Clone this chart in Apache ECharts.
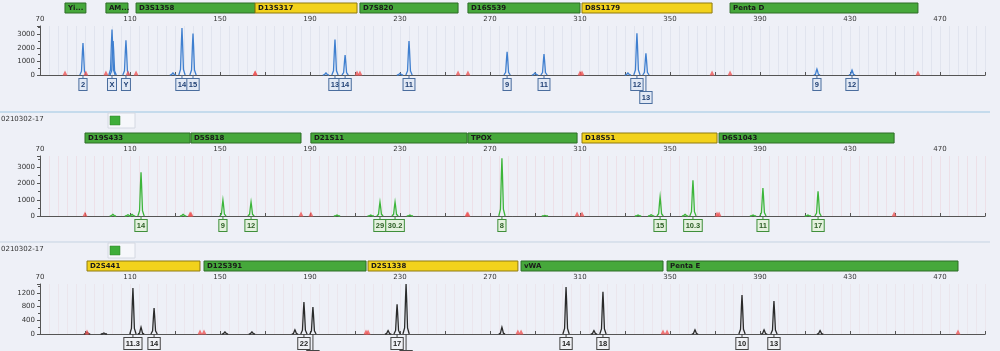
<!DOCTYPE html>
<html>
<head>
<meta charset="utf-8">
<style>
  html, body { margin: 0; padding: 0; background: #eef0f7; }
  #chart { width: 1000px; height: 351px; }
</style>
<script src="https://cdn.jsdelivr.net/npm/echarts@6.0.0/dist/echarts.min.js"></script>
</head>
<body>
<div id="chart"></div>
<script>
// size range (bp) shared by all three dye panels
const sizeMin = 70
const sizeMax = 490
const sizeStep = 20

// blue dye: loci [name, start bp, end bp, bin colour], peaks [bp, rfu], alleles [bp, call, row]
const blueLoci = [
  ['Yi...', 81.1, 90.4, 'g'],
  ['AM...', 99.3, 109.1, 'g'],
  ['D3S1358', 112.7, 165.6, 'g'],
  ['D13S317', 165.6, 210.9, 'y'],
  ['D7S820', 212.2, 255.8, 'g'],
  ['D16S539', 260.2, 310.0, 'g'],
  ['D8S1179', 310.9, 368.7, 'y'],
  ['Penta D', 376.7, 460.2, 'g'],
]
const bluePeaks = [
  [89.1, 2340], [102.0, 3350], [102.5, 2500], [108.2, 2550], [129.1, 150],
  [133.1, 3450], [138.0, 3050], [197.1, 150], [201.1, 2600], [205.6, 1460],
  [230.0, 120], [234.0, 2500], [277.6, 1700], [290.0, 150], [294.0, 1530],
  [331.3, 150], [335.3, 3060], [339.3, 1600], [415.3, 430], [430.9, 360],
]
const blueAlleles = [
  [89.1, '2', 0], [102.0, 'X', 0], [108.2, 'Y', 0], [133.1, '14', 0], [138.0, '15', 0],
  [201.1, '13', 0], [205.6, '14', 0], [234.0, '11', 0], [277.6, '9', 0], [294.0, '11', 0],
  [335.3, '12', 0], [339.3, '13', 1], [415.3, '9', 0], [430.9, '12', 0],
]
const blueTicks = [0, 1000, 2000, 3000]

// green dye
const greenLoci = [
  ['D19S433', 90.0, 136.7, 'g'],
  ['D5S818', 137.1, 186.0, 'g'],
  ['D21S11', 190.4, 259.8, 'g'],
  ['TPOX', 260.2, 308.7, 'g'],
  ['D18S51', 310.9, 370.9, 'y'],
  ['D6S1043', 371.8, 449.6, 'g'],
]
const greenPeaks = [
  [102.4, 100], [109.1, 80], [110.9, 100], [114.9, 2700], [133.6, 100],
  [151.3, 980], [163.8, 860], [202.0, 60], [217.0, 60], [221.1, 860],
  [227.8, 860], [234.4, 60], [275.3, 3560], [294.4, 40], [335.8, 60],
  [341.6, 80], [345.6, 1170], [356.7, 100], [360.2, 2200], [386.9, 60],
  [391.3, 1720], [411.3, 60], [415.8, 1530],
]
const greenAlleles = [
  [114.9, '14', 0], [151.3, '9', 0], [163.8, '12', 0], [221.1, '29', 0], [227.8, '30.2', 0],
  [275.3, '8', 0], [345.6, '15', 0], [360.2, '10.3', 0], [391.3, '11', 0], [415.8, '17', 0],
]
const greenTicks = [0, 1000, 2000, 3000]

// black dye
const blackLoci = [
  ['D2S441', 90.9, 141.1, 'y'],
  ['D12S391', 142.9, 214.9, 'g'],
  ['D2S1338', 215.8, 282.4, 'y'],
  ['vWA', 283.8, 346.9, 'g'],
  ['Penta E', 348.7, 478.0, 'g'],
]
const blackPeaks = [
  [90.9, 50], [98.4, 30], [111.3, 1340], [114.9, 200], [120.7, 760],
  [152.2, 60], [164.2, 60], [183.3, 120], [187.3, 930], [191.3, 790],
  [224.7, 100], [228.7, 870], [232.7, 1460], [275.3, 200], [303.8, 1370],
  [316.2, 100], [320.2, 1230], [361.1, 120], [382.0, 1140], [391.8, 120],
  [396.2, 960], [416.7, 100],
]
const blackAlleles = [
  [111.3, '11.3', 0], [120.7, '14', 0], [187.3, '22', 0], [191.3, '23', 1], [228.7, '17', 0],
  [232.7, '18', 1], [303.8, '14', 0], [320.2, '18', 0], [382.0, '10', 0], [396.2, '13', 0],
]
const blackTicks = [0, 400, 800, 1200]

const sampleName = '0210302-17'

const panels = [
  { loci: blueLoci, peaks: bluePeaks, alleles: blueAlleles, ticks: blueTicks, yMax: 3600,
    top: 26, height: 49, trace: '#3f7fcf', box: '#4a6d9e', boxFill: '#e2e9f5', boxText: '#1f3f73', bins: 'rgba(160,165,190,0.16)' },
  { loci: greenLoci, peaks: greenPeaks, alleles: greenAlleles, ticks: greenTicks, yMax: 3700,
    top: 156, height: 60, trace: '#3db53a', box: '#3f8f3a', boxFill: '#e4f1de', boxText: '#2b5d23', bins: 'rgba(230,150,160,0.17)' },
  { loci: blackLoci, peaks: blackPeaks, alleles: blackAlleles, ticks: blackTicks, yMax: 1460,
    top: 284, height: 50, trace: '#2a2a2a', box: '#444', boxFill: '#f0f1f5', boxText: '#222', bins: 'rgba(220,160,170,0.13)' },
]

const FONT = '"DejaVu Sans", sans-serif'
const CALL_FONT = 'bold 7.5px "Liberation Sans", Arial, sans-serif'
const binFill = { g: '#46a83b', y: '#f2d21c' }
const binStroke = { g: '#2d6d27', y: '#8f7a10' }

const grid = []
const xAxis = []
const yAxis = []
const series = []

panels.forEach((p, i) => {
  grid.push({ left: 40, width: 945, top: p.top, height: p.height })
  const axisBase = { type: 'value', gridIndex: i, min: sizeMin, max: sizeMax, interval: sizeStep }
  // labelled size axis along the top
  xAxis.push({
    ...axisBase,
    position: 'top',
    axisLine: { lineStyle: { color: '#555', width: 1 } },
    axisTick: { show: true, length: 3, lineStyle: { color: '#555' } },
    axisLabel: {
      color: '#333', fontSize: 7, fontFamily: FONT, margin: 3,
      formatter: v => ((v - sizeMin) % 40 === 0 ? String(v) : ''),
    },
    splitLine: { show: true, lineStyle: { color: p.bins, width: 1 } },
    minorTick: { show: false, splitNumber: 5 },
    minorSplitLine: { show: true, lineStyle: { color: p.bins, width: 1 } },
  })
  // baseline at 0 rfu
  xAxis.push({
    ...axisBase,
    position: 'bottom',
    axisLine: { lineStyle: { color: '#555', width: 1 } },
    axisTick: { show: true, inside: true, length: 2, lineStyle: { color: '#555' } },
    axisLabel: { show: false },
    splitLine: { show: false },
  })
  yAxis.push({
    type: 'value', gridIndex: i, min: 0, max: p.yMax, interval: p.ticks[1],
    axisLine: { show: true, lineStyle: { color: '#555', width: 1 } },
    axisTick: { show: true, length: 3, lineStyle: { color: '#555' } },
    minorTick: { show: true, splitNumber: 2, length: 2, lineStyle: { color: '#555' } },
    axisLabel: {
      color: '#333', fontSize: 7, fontFamily: FONT, margin: 5,
      formatter: v => (p.ticks.includes(v) ? String(v) : ''),
    },
    splitLine: { show: false },
  })

  const xi = i * 2

  // locus bins above each panel
  series.push({
    type: 'custom', xAxisIndex: xi, yAxisIndex: i, silent: true, z: 5,
    data: p.loci.map(l => [l[1], l[2], 0]),
    encode: { x: [0, 1], y: 2 },
    renderItem(params, api) {
      const locus = p.loci[params.dataIndex]
      const x0 = api.coord([api.value(0), 0])[0]
      const x1 = api.coord([api.value(1), 0])[0]
      const y = params.coordSys.y - 23
      return {
        type: 'group',
        children: [
          { type: 'rect', shape: { x: x0, y, width: x1 - x0, height: 10 },
            style: { fill: binFill[locus[3]], stroke: binStroke[locus[3]], lineWidth: 1 } },
          { type: 'text', x: x0 + 3, y: y + 5.5,
            style: { text: locus[0], font: 'bold 7px ' + FONT, fill: '#1a1a1a', verticalAlign: 'middle', align: 'left' } },
        ],
      }
    },
  })

  // electropherogram peaks
  series.push({
    type: 'custom', xAxisIndex: xi, yAxisIndex: i, silent: true, z: 4,
    data: p.peaks,
    renderItem(params, api) {
      const bp = api.value(0)
      const h = api.value(1)
      const profile = [[-1.4, 0], [-0.65, 0.12], [-0.24, 0.72], [0, 1], [0.24, 0.72], [0.65, 0.12], [1.4, 0]]
      const points = profile.map(([dx, f]) => api.coord([bp + dx, h * f]))
      return { type: 'polyline', shape: { points }, style: { stroke: p.trace, lineWidth: 1.3, fill: null } }
    },
  })

  // red bin edge markers on the baseline
  series.push({
    type: 'scatter', xAxisIndex: xi, yAxisIndex: i, silent: true, z: 6,
    symbol: 'triangle', symbolSize: [5, 5], symbolOffset: [0, -2],
    itemStyle: { color: '#ef5656' },
    data: p.loci.flatMap(l => [[l[1], 0], [l[2], 0]]),
  })

  // allele call boxes under the peaks
  series.push({
    type: 'custom', xAxisIndex: xi, yAxisIndex: i, silent: true, z: 7,
    data: p.alleles.map(a => [a[0], 0, a[2]]),
    renderItem(params, api) {
      const allele = p.alleles[params.dataIndex]
      const pt = api.coord([api.value(0), 0])
      const top = pt[1] + 4 + api.value(2) * 13
      return {
        type: 'group',
        children: [
          { type: 'line', shape: { x1: pt[0], y1: pt[1], x2: pt[0], y2: top },
            style: { stroke: p.box, lineWidth: 1 } },
          { type: 'text', x: pt[0], y: top,
            style: {
              text: allele[1], font: CALL_FONT, fill: p.boxText,
              align: 'center', verticalAlign: 'top',
              backgroundColor: p.boxFill, borderColor: p.box, borderWidth: 1, padding: [2, 1.5, 1, 1.5],
            } },
        ],
      }
    },
  })
})

// sample strips between the dye panels
const graphic = []
;[[112, '#9cc6e2'], [242, '#c5d3e2']].forEach(([y, c]) => {
  graphic.push({ type: 'line', shape: { x1: 0, y1: y, x2: 990, y2: y }, style: { stroke: c, lineWidth: 1 } })
  graphic.push({ type: 'text', x: 1, y: y + 7, style: { text: sampleName, font: '7px ' + FONT, fill: '#333', verticalAlign: 'middle' } })
  graphic.push({ type: 'rect', shape: { x: 108, y: y + 1, width: 27, height: 15 }, style: { fill: '#f6f7fb', stroke: '#d4d8e2', lineWidth: 1 } })
  graphic.push({ type: 'rect', shape: { x: 110, y: y + 4, width: 10, height: 9 }, style: { fill: '#3fae3a', stroke: '#2d7d29', lineWidth: 0.5 } })
})

const chart = echarts.init(document.getElementById('chart'), null, { renderer: 'canvas' })
chart.setOption({
  backgroundColor: '#eef0f7',
  animation: false,
  grid,
  xAxis,
  yAxis,
  series,
  graphic,
})
</script>
</body>
</html>
